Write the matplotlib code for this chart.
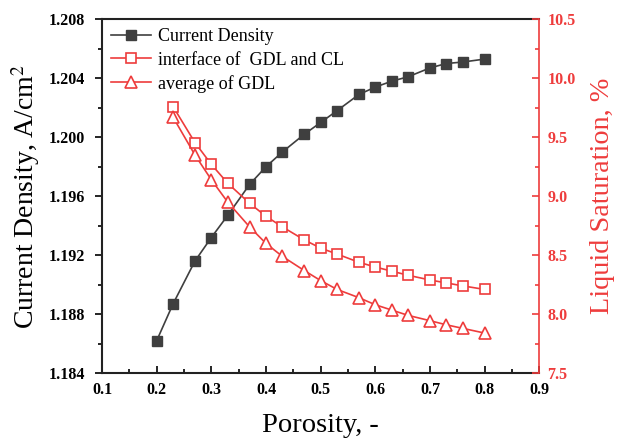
import numpy as np
import matplotlib.pyplot as plt
from matplotlib.ticker import MultipleLocator

plt.rcParams['font.family'] = ['Liberation Serif', 'DejaVu Serif']
plt.rcParams['mathtext.fontset'] = 'stix'

# porosity values
por_cd = [0.2, 0.23, 0.27, 0.3, 0.33, 0.37, 0.4, 0.43, 0.47, 0.5,
          0.53, 0.57, 0.6, 0.63, 0.66, 0.7, 0.73, 0.76, 0.8]
current_density = [1.1862, 1.1887, 1.1916, 1.1932, 1.1947, 1.1968, 1.1980, 1.1990,
                   1.2002, 1.2010, 1.2018, 1.2029, 1.2034, 1.2038, 1.2041, 1.2047,
                   1.2050, 1.2051, 1.2053]

por_sat = [0.23, 0.27, 0.3, 0.33, 0.37, 0.4, 0.43, 0.47, 0.5,
           0.53, 0.57, 0.6, 0.63, 0.66, 0.7, 0.73, 0.76, 0.8]
sat_interface = [9.76, 9.455, 9.27, 9.11, 8.94, 8.83, 8.74, 8.63, 8.56,
                 8.51, 8.44, 8.40, 8.365, 8.33, 8.29, 8.265, 8.24, 8.21]
sat_average = [9.67, 9.35, 9.14, 8.95, 8.74, 8.60, 8.49, 8.37, 8.285,
               8.21, 8.14, 8.08, 8.035, 7.99, 7.945, 7.91, 7.88, 7.84]

gray = '#3f3f3f'
red = '#ee3c3c'

fig = plt.figure(figsize=(6.22, 4.38), dpi=100)
ax = fig.add_axes([0.164, 0.148, 0.703, 0.808])
ax2 = ax.twinx()

l1, = ax.plot(por_cd, current_density, color=gray, marker='s', ms=6.5, lw=1.2,
              label='Current Density')
l2, = ax2.plot(por_sat, sat_interface, color=red, marker='s', ms=6.5, mfc='white',
               mew=1.2, lw=1.2, label='interface of  GDL and CL')
l3, = ax2.plot(por_sat, sat_average, color=red, marker='^', ms=8.5, mfc='white',
               mew=1.2, lw=1.2, label='average of GDL')

ax.set_xlim(0.1, 0.9)
ax.set_ylim(1.184, 1.208)
ax2.set_ylim(7.5, 10.5)

ax.xaxis.set_major_locator(MultipleLocator(0.1))
ax.xaxis.set_minor_locator(MultipleLocator(0.05))
ax.yaxis.set_major_locator(MultipleLocator(0.004))
ax.yaxis.set_minor_locator(MultipleLocator(0.002))
ax2.yaxis.set_major_locator(MultipleLocator(0.5))
ax2.yaxis.set_minor_locator(MultipleLocator(0.25))

ax.xaxis.set_major_formatter(plt.FuncFormatter(lambda v, p: f'{v:.1f}'))
ax.yaxis.set_major_formatter(plt.FuncFormatter(lambda v, p: f'{v:.3f}'))
ax2.yaxis.set_major_formatter(plt.FuncFormatter(lambda v, p: f'{v:.1f}'))

ax.tick_params(axis='x', direction='in', length=5, width=1.2, labelsize=11.5, pad=6)
ax.tick_params(axis='x', which='minor', direction='in', length=3, width=1.2)
ax.tick_params(axis='y', direction='out', length=5, width=1.2, labelsize=11.5, pad=7)
ax.tick_params(axis='y', which='minor', direction='out', length=3, width=1.2)
ax2.tick_params(axis='y', direction='in', length=5, width=1.2, labelsize=11.5,
                colors=red, pad=6)
ax2.tick_params(axis='y', which='minor', direction='in', length=3, width=1.2,
                colors=red)

for lab in ax.get_xticklabels() + ax.get_yticklabels() + ax2.get_yticklabels():
    lab.set_fontweight('bold')

for s in ['left', 'bottom', 'top']:
    ax.spines[s].set_linewidth(1.5)
    ax.spines[s].set_color('#222222')
ax2.spines['right'].set_color(red)
ax2.spines['right'].set_linewidth(1.2)
ax2.spines['left'].set_visible(False)
ax2.spines['top'].set_visible(False)
ax2.spines['bottom'].set_visible(False)
ax.spines['right'].set_visible(False)

ax.set_xlabel('Porosity, -', fontsize=20.5, labelpad=11)
ax.set_ylabel('Current Density, A/cm$^2$', fontsize=20, labelpad=5)
ax2.set_ylabel('Liquid Saturation, %', fontsize=20.3, color=red, labelpad=10)

ax.legend(handles=[l1, l2, l3], loc='upper left', frameon=False, fontsize=13,
          handlelength=2.2, borderaxespad=0.1, labelspacing=0.35,
          handletextpad=0.4, bbox_to_anchor=(0.0, 1.0))

fig.savefig('out.png', dpi=100)
